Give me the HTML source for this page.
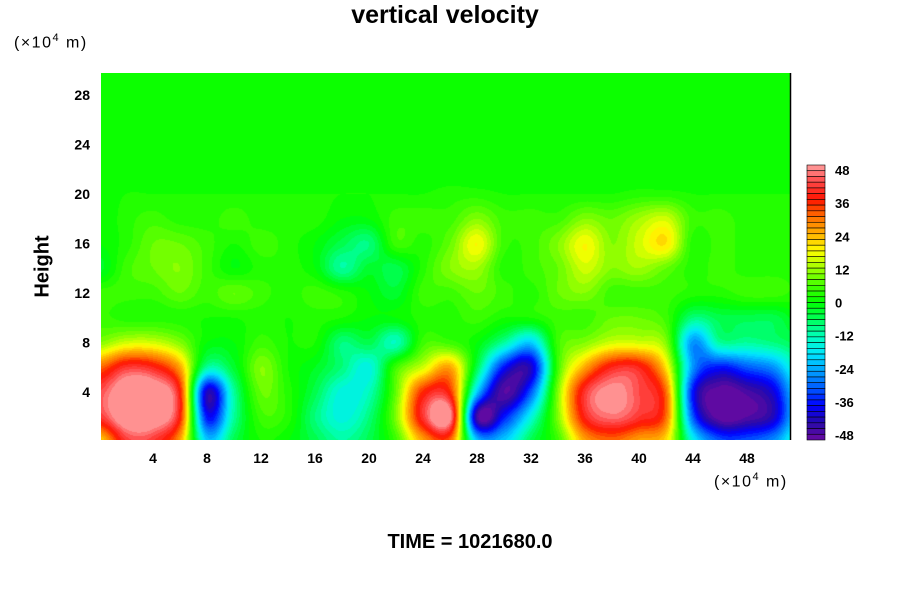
<!DOCTYPE html>
<html><head><meta charset="utf-8">
<style>
body{margin:0;background:#fff;width:900px;height:600px;overflow:hidden;position:relative;font-family:"Liberation Sans",sans-serif;}
.t{position:absolute;font-weight:bold;color:#000;white-space:nowrap;}
</style></head><body>
<div class="t" style="left:0;width:890px;text-align:center;top:1px;font-size:25px;">vertical velocity</div>
<div class="t" style="left:14px;top:32px;font-size:16px;font-weight:normal;letter-spacing:1.5px;">(×10<sup style="font-size:11px">4</sup> m)</div>
<div class="t" style="left:714px;top:471px;font-size:16px;font-weight:normal;letter-spacing:1.5px;">(×10<sup style="font-size:11px">4</sup> m)</div>
<div class="t" style="left:12px;top:255px;font-size:20px;transform:rotate(-90deg);">Height</div>
<div class="t" style="left:0;width:940px;text-align:center;top:531px;font-size:20px;">TIME = 1021680.0</div>
<canvas id="cv" width="689" height="367" style="position:absolute;left:101px;top:73px;"></canvas>
<svg id="sv" width="900" height="600" style="position:absolute;left:0;top:0;"></svg>
<script>
const xTicks=[4,8,12,16,20,24,28,32,36,40,44,48];
const yTicks=[4,8,12,16,20,24,28];
const cbLabels=[48,36,24,12,0,-12,-24,-36,-48];
const gridX=[0,2,4,6,8,10,12,14,16,18,20,22,24,26,28,30,32,34,36,38,40,42,44,46,48,50,52];
const gridY=[0,2,4,6,8,10,12,14,16,18,20,22];
const row0=[20,40,40,25,-20,-5,2,0,-5,-10,-5,5,25,30,-20,-20,-5,5,25,30,25,20,-15,-30,-30,-25,-10];
const row2=[40,52,52,36,-35,-10,5,3,-8,-15,-8,10,40,48,-44,-35,-15,10,38,45,40,30,-30,-48,-46,-40,-15];
const row4=[42,52,52,36,-40,-10,8,3,-5,-15,-12,8,35,35,-20,-46,-30,10,40,48,42,30,-35,-48,-45,-38,-15];
const row6=[30,40,38,25,-10,-3,10,2,-2,-8,-15,5,15,25,-5,-35,-40,5,25,38,38,20,-25,-35,-30,-25,-10];
const row8=[10,15,15,10,0,0,5,2,2,-8,-5,-12,5,5,0,-10,-20,5,10,15,15,10,-25,-10,-10,-8,-5];
const row10=[5,3,3,3,2,2,3,2,3,2,0,0,3,3,5,2,2,5,5,8,8,5,-8,-5,-5,-5,0];
const row12=[5,5,5,8,5,8,5,3,5,3,0,-3,5,5,8,5,3,8,10,5,5,5,3,3,5,5,3];
const row14=[-3,5,8,10,5,0,3,3,0,-10,-3,-5,3,10,12,3,5,8,15,10,12,8,3,5,3,3,3];
const row16=[0,3,8,8,5,2,5,3,0,-5,-8,5,3,8,18,5,5,10,18,10,15,20,3,5,3,3,3];
const row18=[0,3,5,3,3,5,3,3,3,0,0,5,5,5,10,5,5,5,10,8,12,15,5,5,3,3,3];
const row20=[0,2,2,2,2,2,2,2,2,2,2,2,2,3,3,2,2,2,2,2,3,3,2,2,2,2,2];
const row22=[0,0,0,0,0,0,0,0,0,0,0,0,0,0,0,0,0,0,0,0,0,0,0,0,0,0,0];
const rows=[row0,row2,row4,row6,row8,row10,row12,row14,row16,row18,row20,row22];

const X0=101,X1=790,Y0=73,Y1=440;
const xs=v=>99+v*13.5;
const ys=v=>441.5-v*12.375;
const stops=[[-48,[106,10,160]],[-42,[40,10,170]],[-36,[0,0,255]],[-30,[0,90,255]],[-24,[0,160,255]],[-18,[0,230,255]],[-12,[0,255,190]],[-6,[0,255,90]],[0,[0,255,0]],[6,[70,255,0]],[12,[160,255,0]],[18,[255,255,0]],[24,[255,176,0]],[30,[255,110,0]],[36,[255,20,0]],[42,[255,70,70]],[48,[255,160,160]]];
function col(v){
  v=Math.max(-48,Math.min(47.99,v));
  v=Math.floor(v/2)*2+1;
  for(let i=0;i<stops.length-1;i++){
    const a=stops[i],b=stops[i+1];
    if(v>=a[0]&&v<=b[0]){const t=(v-a[0])/(b[0]-a[0]);return a[1].map((c,k)=>Math.round(c+(b[1][k]-c)*t));}
  }
  return stops[stops.length-1][1];
}
function cr(p0,p1,p2,p3,t){
  return 0.5*((2*p1)+(-p0+p2)*t+(2*p0-5*p1+4*p2-p3)*t*t+(-p0+3*p1-3*p2+p3)*t*t*t);
}
function g(j,i){
  j=Math.max(0,Math.min(rows.length-1,j));i=Math.max(0,Math.min(gridX.length-1,i));
  return rows[j][i];
}
function field(xu,yu){
  const fx=Math.max(0,Math.min(gridX.length-1.001,xu/2));
  const fy=Math.max(0,yu/2);
  if(fy>=gridY.length-1) return 0;
  const i=Math.floor(fx),j=Math.floor(fy),tx=fx-i,ty=fy-j;
  const r=[];
  for(let dj=-1;dj<=2;dj++){
    r.push(cr(g(j+dj,i-1),g(j+dj,i),g(j+dj,i+1),g(j+dj,i+2),tx));
  }
  return cr(r[0],r[1],r[2],r[3],ty);
}
const cv=document.getElementById('cv'),ctx=cv.getContext('2d');
const img=ctx.createImageData(689,367);
for(let py=0;py<367;py++){for(let px=0;px<689;px++){
  const xu=(X0+px+0.5-99)/13.5,yu=(441.5-(Y0+py+0.5))/12.375;
  const c=col(field(xu,yu));const k=(py*689+px)*4;
  img.data[k]=c[0];img.data[k+1]=c[1];img.data[k+2]=c[2];img.data[k+3]=255;
}}
ctx.putImageData(img,0,0);

const NS='http://www.w3.org/2000/svg',sv=document.getElementById('sv');
function mk(t,at,txt){const e=document.createElementNS(NS,t);for(const k in at)e.setAttribute(k,at[k]);if(txt!==undefined)e.textContent=txt;sv.appendChild(e);return e;}
let e=mk('line',{x1:790.5,y1:Y0,x2:790.5,y2:Y1,stroke:'#000','stroke-width':1.5});


xTicks.forEach(v=>{
  const t=mk('text',{x:xs(v),y:463,'text-anchor':'middle','font-size':14,'font-weight':'bold','font-family':'Liberation Sans'},v);
  
  
});
yTicks.forEach(v=>{
  const t=mk('text',{x:90,y:ys(v)+5,'text-anchor':'end','font-size':14,'font-weight':'bold','font-family':'Liberation Sans'},v);
  
  
});
const cbTop=165,cbBot=440,nb=48,bh=(cbBot-cbTop)/nb;
for(let i=0;i<nb;i++){
  const v=48-2*i-1;const c=col(v);
  const r=mk('rect',{x:807,y:cbTop+i*bh,width:18,height:bh,fill:`rgb(${c})`,stroke:'#000','stroke-width':0.6});
  
  
}
cbLabels.forEach(v=>{
  const y=cbTop+5+(48-v)/96*(cbBot-cbTop-10);
  const t=mk('text',{x:835,y:y+5,'font-size':13,'font-weight':'bold','font-family':'Liberation Sans'},v);
  
  
});
</script>
</body></html>
